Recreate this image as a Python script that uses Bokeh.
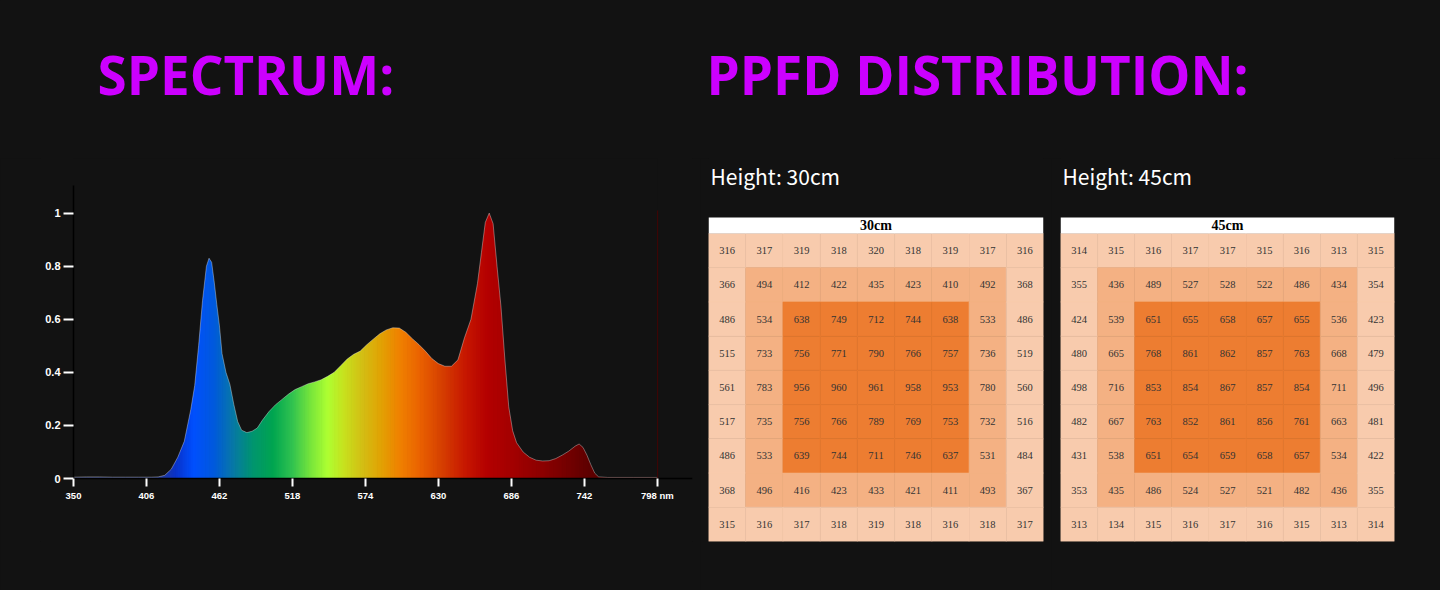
from bokeh.plotting import figure
from bokeh.layouts import row, column
from bokeh.models import (Range1d, FixedTicker, NumeralTickFormatter, Label,
                          BoxAnnotation, GlobalInlineStyleSheet)
from bokeh.core.properties import value
from bokeh.embed import file_html
from bokeh.resources import INLINE
import numpy as np

BG = "#121212"
MAGENTA = "#CC00FF"

# ---------------- data ----------------
wavelength = [350, 360, 370, 380, 390, 400, 410, 415, 420, 425, 430, 435, 440, 443, 446,
              449, 452, 454, 456, 458, 460, 462, 464, 467, 470, 473, 476, 479, 483, 487,
              491, 495, 500, 505, 510, 515, 520, 525, 530, 535, 540, 545, 550, 555, 560,
              565, 570, 575, 580, 585, 590, 595, 600, 605, 610, 615, 620, 625, 630, 635,
              640, 645, 650, 655, 660, 663, 666, 669, 672, 675, 678, 681, 684, 687, 690,
              695, 700, 705, 710, 715, 720, 725, 730, 735, 738, 741, 744, 747, 750, 753,
              760, 780, 798]
intensity = [0.005, 0.006, 0.006, 0.005, 0.005, 0.005, 0.005, 0.006, 0.012, 0.035, 0.08, 0.14,
             0.26, 0.35, 0.50, 0.67, 0.80, 0.83, 0.815, 0.74, 0.655, 0.575, 0.47, 0.40, 0.355,
             0.28, 0.215, 0.182, 0.173, 0.178, 0.19, 0.22, 0.252, 0.278, 0.298, 0.318, 0.335,
             0.346, 0.357, 0.364, 0.372, 0.385, 0.40, 0.425, 0.45, 0.468, 0.48, 0.504, 0.525,
             0.545, 0.56, 0.568, 0.567, 0.551, 0.527, 0.505, 0.48, 0.452, 0.433, 0.423, 0.423,
             0.447, 0.53, 0.60, 0.735, 0.85, 0.965, 1.0, 0.96, 0.80, 0.65, 0.45, 0.27, 0.18,
             0.135, 0.10, 0.08, 0.069, 0.066, 0.067, 0.075, 0.088, 0.103, 0.122, 0.13, 0.117,
             0.088, 0.052, 0.02, 0.006, 0.004, 0.004, 0.004]

x_ticks = [350, 406, 462, 518, 574, 630, 686, 742, 798]
y_ticks = [0, 0.2, 0.4, 0.6, 0.8, 1]

ppfd_30cm = [
    [316, 317, 319, 318, 320, 318, 319, 317, 316],
    [366, 494, 412, 422, 435, 423, 410, 492, 368],
    [486, 534, 638, 749, 712, 744, 638, 533, 486],
    [515, 733, 756, 771, 790, 766, 757, 736, 519],
    [561, 783, 956, 960, 961, 958, 953, 780, 560],
    [517, 735, 756, 766, 789, 769, 753, 732, 516],
    [486, 533, 639, 744, 711, 746, 637, 531, 484],
    [368, 496, 416, 423, 433, 421, 411, 493, 367],
    [315, 316, 317, 318, 319, 318, 316, 318, 317],
]
ppfd_45cm = [
    [314, 315, 316, 317, 317, 315, 316, 313, 315],
    [355, 436, 489, 527, 528, 522, 486, 434, 354],
    [424, 539, 651, 655, 658, 657, 655, 536, 423],
    [480, 665, 768, 861, 862, 857, 763, 668, 479],
    [498, 716, 853, 854, 867, 857, 854, 711, 496],
    [482, 667, 763, 852, 861, 856, 761, 663, 481],
    [431, 538, 651, 654, 659, 658, 657, 534, 422],
    [353, 435, 486, 524, 527, 521, 482, 436, 355],
    [313, 134, 315, 316, 317, 316, 315, 313, 314],
]

# ---------------- styles ----------------
stop_nm = [350, 415, 428, 442, 458, 472, 488, 503, 518, 532, 545, 558, 572, 585, 600,
           615, 632, 650, 668, 690, 710, 730, 745, 800]
stop_rgb = [(60, 70, 120), (40, 60, 140), (10, 50, 200), (0, 80, 255), (0, 90, 220),
            (8, 120, 168), (0, 150, 110), (0, 165, 80), (50, 195, 80), (120, 230, 60),
            (175, 255, 50), (200, 225, 30), (212, 190, 20), (225, 165, 5), (240, 130, 0),
            (235, 100, 0), (215, 65, 0), (200, 25, 0), (180, 0, 0), (160, 0, 0),
            (140, 0, 0), (115, 0, 0), (95, 0, 0), (80, 0, 0)]


def spectral_color(nm):
    r = np.interp(nm, stop_nm, [c[0] for c in stop_rgb])
    g = np.interp(nm, stop_nm, [c[1] for c in stop_rgb])
    b = np.interp(nm, stop_nm, [c[2] for c in stop_rgb])
    return "#%02x%02x%02x" % (int(r), int(g), int(b))


# page layout (pixels)
ROW_TOP = 158          # top of the lower row
FRAME_BOTTOM = 541     # common bottom of all frames in the lower row
PAGE_H = 590
BORDER_BOTTOM = PAGE_H - FRAME_BOTTOM
ROW_H = PAGE_H - ROW_TOP
BASELINE_SHIFT = 0.415  # Bokeh draws "alphabetic" labels this many em lower

# ---------------- titles ----------------
pt = figure(width=1440, height=ROW_TOP, x_range=Range1d(0, 1440), y_range=Range1d(ROW_TOP, 0),
            output_backend="svg", toolbar_location=None, x_axis_type=None, y_axis_type=None,
            min_border=0, background_fill_color=BG, border_fill_color=BG,
            outline_line_color=None)
pt.grid.visible = False
TITLE_FS = 53
for txt, x0 in [("SPECTRUM:", 97), ("PPFD DISTRIBUTION:", 706)]:
    pt.add_layout(Label(x=x0, y=96 - BASELINE_SHIFT * TITLE_FS, text=txt,
                        text_font="Open Sans", text_font_style="bold",
                        text_font_size="%dpx" % TITLE_FS, text_color=MAGENTA,
                        text_baseline="alphabetic", text_align="left"))

# ---------------- spectrum ----------------
PX_PER_UNIT = 265.4
ZERO_PX = 478
AXIS_LEFT_PX, AXIS_RIGHT_PX, FRAME_LEFT_PX = 73, 692, 40
X0, X1 = 350, 825
nm_per_px = (X1 - X0) / (AXIS_RIGHT_PX - AXIS_LEFT_PX)
x_lo = X0 - (AXIS_LEFT_PX - FRAME_LEFT_PX) * nm_per_px
y_lo = -(FRAME_BOTTOM - ZERO_PX) / PX_PER_UNIT
y_hi = (ZERO_PX - ROW_TOP) / PX_PER_UNIT
axis_top = (ZERO_PX - 185) / PX_PER_UNIT

ps = figure(width=700, height=ROW_H, x_range=Range1d(x_lo, X1), y_range=Range1d(y_lo, y_hi),
            output_backend="svg", toolbar_location=None,
            min_border_left=FRAME_LEFT_PX, min_border_right=700 - AXIS_RIGHT_PX,
            min_border_top=0, min_border_bottom=BORDER_BOTTOM,
            background_fill_color=BG, border_fill_color=BG, outline_line_color=None)
ps.grid.visible = False

edges = np.arange(wavelength[0], wavelength[-1], 1.0)
strip_colors = [spectral_color(e + 0.5) for e in edges]
ps.quad(left=edges, right=edges + 1.6, bottom=0, top=max(intensity) + 0.01,
        fill_color=strip_colors, line_color=None)
ps.varea(x=wavelength, y1=intensity, y2=y_hi, fill_color=BG)
ps.line(x=wavelength, y=intensity, line_color="white", line_alpha=0.35, line_width=1)

for ax in (ps.xaxis[0], ps.yaxis[0]):
    ax.axis_line_color = "black"
    ax.axis_line_width = 1.5
    ax.major_tick_line_color = "white"
    ax.major_tick_line_width = 2
    ax.major_tick_in = 0
    ax.minor_tick_line_color = None
    ax.major_label_text_color = "white"
    ax.major_label_text_font = "Liberation Sans"
    ax.major_label_text_font_style = "bold"

ps.xaxis.fixed_location = 0
ps.xaxis.bounds = (X0, X1)
ps.xaxis.ticker = FixedTicker(ticks=x_ticks)
ps.xaxis.major_label_overrides = {798: "798 nm"}
ps.xaxis.major_tick_out = 8
ps.xaxis.major_label_text_font_size = "9.5px"
ps.xaxis.major_label_standoff = 3

ps.yaxis.fixed_location = X0
ps.yaxis.bounds = (0, axis_top)
ps.yaxis.ticker = FixedTicker(ticks=y_ticks)
ps.yaxis.formatter = NumeralTickFormatter(format="0.[0]")
ps.yaxis.major_tick_out = 10
ps.yaxis.major_label_text_font_size = "11px"
ps.yaxis.major_label_standoff = 3

# ---------------- PPFD grids ----------------
PEACH, MED, DARK = "#F8CBAD", "#F4B183", "#ED7D31"
GRID_TOP = 233
HEADER_TOP = 217
SUB_FS = 21


def ppfd_fig(values, header, subtitle, width, ml, mr):
    n = len(values)
    row_px = (FRAME_BOTTOM - GRID_TOP) / n
    ytop = -0.5 + (FRAME_BOTTOM - ROW_TOP) / row_px
    p = figure(width=width, height=ROW_H, x_range=Range1d(-0.5, n - 0.5),
               y_range=Range1d(-0.5, ytop), output_backend="svg", toolbar_location=None,
               x_axis_type=None, y_axis_type=None,
               min_border_left=ml, min_border_right=mr, min_border_top=0,
               min_border_bottom=BORDER_BOTTOM, background_fill_color=BG,
               border_fill_color=BG, outline_line_color=None)
    p.grid.visible = False
    xs, ys, txt, cols = [], [], [], []
    for r, vals in enumerate(values):
        for c, v in enumerate(vals):
            ring = min(r, c, n - 1 - r, n - 1 - c)
            xs.append(c)
            ys.append(n - 1 - r)
            txt.append(str(v))
            cols.append(PEACH if ring == 0 else (MED if ring == 1 else DARK))
    p.rect(x=xs, y=ys, width=1, height=1, fill_color=cols, line_color=cols, line_width=0.6)
    p.text(x=xs, y=ys, text=txt, text_align="center", text_baseline="middle",
           text_font=value("Liberation Serif"), text_font_size="10.5px",
           text_color="#333333")
    hb = n - 0.5
    ht = hb + (GRID_TOP - HEADER_TOP) / row_px
    p.add_layout(BoxAnnotation(left=-0.5, right=n - 0.5, bottom=hb, top=ht,
                               fill_color="white", fill_alpha=1.0, line_color=None))
    p.add_layout(Label(x=(n - 1) / 2, y=(hb + ht) / 2, text=header, text_align="center",
                       text_baseline="middle", text_font="Liberation Serif",
                       text_font_style="bold", text_font_size="14px", text_color="black"))
    sub_px = 184 - BASELINE_SHIFT * SUB_FS
    p.add_layout(Label(x=-0.5, x_offset=2, y=-0.5 + (FRAME_BOTTOM - sub_px) / row_px,
                       text=subtitle, text_align="left", text_baseline="alphabetic",
                       text_font="Noto Sans CJK SC", text_font_size="%dpx" % SUB_FS,
                       text_color="white"))
    return p


g1 = ppfd_fig(ppfd_30cm, "30cm", "Height: 30cm", 351, 8, 8)
g2 = ppfd_fig(ppfd_45cm, "45cm", "Height: 45cm", 389, 9, 46)

layout = column(pt, row(ps, g1, g2),
                stylesheets=[GlobalInlineStyleSheet(
                    css="html,body{background:#121212;margin:0;overflow:hidden;}")])

open("out.html", "w").write(file_html(layout, INLINE))
